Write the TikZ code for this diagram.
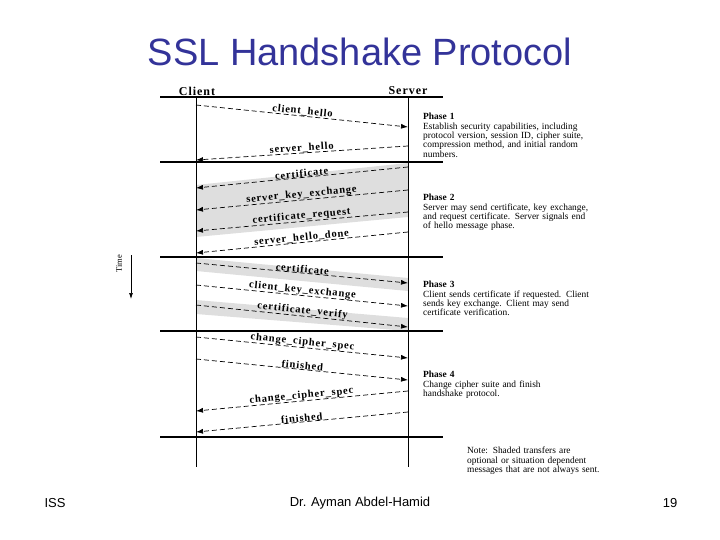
\documentclass[tikz,border=0pt]{standalone}
\usepackage{fontspec}
\setmainfont{Liberation Sans}
\newfontfamily\dserif{Liberation Serif}
\newfontfamily\lblfont[LetterSpace=8]{Liberation Serif}
\usetikzlibrary{arrows.meta}
\definecolor{titleblue}{HTML}{333399}
\begin{document}
\begin{tikzpicture}[x=1pt,y=-1pt,
  rule/.style={line width=1.4pt},
  life/.style={line width=0.7pt},
  msg/.style={dashed,dash pattern=on 5pt off 3pt,line width=0.7pt,-{Latex[length=7pt,width=5pt]}},
  lbl/.style={sloped,above,inner sep=0pt,font=\lblfont\bfseries\fontsize{10.5}{10.5}\selectfont},
  band/.style={fill=black!13,draw=none},
  phase/.style={anchor=north west,align=left,font=\dserif\fontsize{9.4}{9.4}\selectfont,text width=220pt,inner sep=0pt}]
\useasboundingbox (0,0) rectangle (720,540);
\node[font=\fontsize{38}{40}\selectfont,text=titleblue] (title) at (360,52) {SSL Handshake Protocol};
\node[font=\fontsize{13}{14}\selectfont] (f1) at (55,503) {ISS};
\node[font=\fontsize{13}{14}\selectfont] (f2) at (360,503) {Dr. Ayman Abdel-Hamid};
\node[font=\fontsize{13}{14}\selectfont] (f3) at (670,503) {19};
% bands
\fill[band] (196,185) -- (408,163) -- (408,217) -- (196,237) -- cycle;
\fill[band] (196,258) -- (408,278) -- (408,291) -- (196,271) -- cycle;
\fill[band] (196,300) -- (408,318) -- (408,331) -- (196,314) -- cycle;
% headers
\node[font=\lblfont\bfseries\fontsize{12}{12}\selectfont] (cl) at (197,91) {Client};
\node[font=\lblfont\bfseries\fontsize{12}{12}\selectfont] (sv) at (408,91) {Server};
% rules
\foreach \y in {97,162,257,331,437}
  \draw[rule] (160,\y) -- (443,\y);
\coordinate (ctop) at (196,97); \coordinate (cbot) at (196,467);
\coordinate (stop) at (408,97); \coordinate (sbot) at (408,467);
\draw[life] (ctop) -- (cbot);
\draw[life] (stop) -- (sbot);
% messages
\coordinate (a1) at (196,105); \coordinate (b1) at (408,127);
\draw[msg] (a1) -- node[lbl]{client\_hello} (b1);
\coordinate (a2) at (408,146); \coordinate (b2) at (196,160);
\draw[msg] (a2) -- node[lbl]{server\_hello} (b2);
\coordinate (a3) at (408,167); \coordinate (b3) at (196,188);
\draw[msg] (a3) -- node[lbl]{certificate} (b3);
\coordinate (a4) at (408,190); \coordinate (b4) at (196,210);
\draw[msg] (a4) -- node[lbl]{server\_key\_exchange} (b4);
\coordinate (a5) at (408,212); \coordinate (b5) at (196,231);
\draw[msg] (a5) -- node[lbl]{certificate\_request} (b5);
\coordinate (a6) at (408,232); \coordinate (b6) at (196,253);
\draw[msg] (a6) -- node[lbl]{server\_hello\_done} (b6);
\coordinate (a7) at (196,263); \coordinate (b7) at (408,283);
\draw[msg] (a7) -- node[lbl]{certificate} (b7);
\coordinate (a8) at (196,285); \coordinate (b8) at (408,306);
\draw[msg] (a8) -- node[lbl]{client\_key\_exchange} (b8);
\coordinate (a9) at (196,305); \coordinate (b9) at (408,327);
\draw[msg] (a9) -- node[lbl]{certificate\_verify} (b9);
\coordinate (a10) at (196,337); \coordinate (b10) at (408,358);
\draw[msg] (a10) -- node[lbl]{change\_cipher\_spec} (b10);
\coordinate (a11) at (196,359); \coordinate (b11) at (408,380);
\draw[msg] (a11) -- node[lbl]{finished} (b11);
\coordinate (a12) at (408,391); \coordinate (b12) at (196,411);
\draw[msg] (a12) -- node[lbl]{change\_cipher\_spec} (b12);
\coordinate (a13) at (408,412); \coordinate (b13) at (196,432);
\draw[msg] (a13) -- node[lbl]{finished} (b13);
% phases
\node[phase] (p1) at (423,113) {\textbf{Phase 1}\\Establish security capabilities, including\\protocol version, session ID, cipher suite,\\compression method, and initial random\\numbers.};
\node[phase] (p2) at (423,194) {\textbf{Phase 2}\\Server may send certificate, key exchange,\\and request certificate. Server signals end\\of hello message phase.};
\node[phase] (p3) at (423,281) {\textbf{Phase 3}\\Client sends certificate if requested. Client\\sends key exchange. Client may send\\certificate verification.};
\node[phase] (p4) at (423,371) {\textbf{Phase 4}\\Change cipher suite and finish\\handshake protocol.};
\node[phase] (note) at (467,447) {Note: Shaded transfers are\\optional or situation dependent\\messages that are not always sent.};
% time
\coordinate (t0) at (131,255); \coordinate (t1) at (131,299);
\draw[line width=0.7pt,-{Latex[length=6pt,width=4pt]}] (t0) -- (t1);
\node[rotate=90,font=\dserif\fontsize{8.5}{9}\selectfont] (time) at (119,264) {Time};
\end{tikzpicture}
\end{document}
